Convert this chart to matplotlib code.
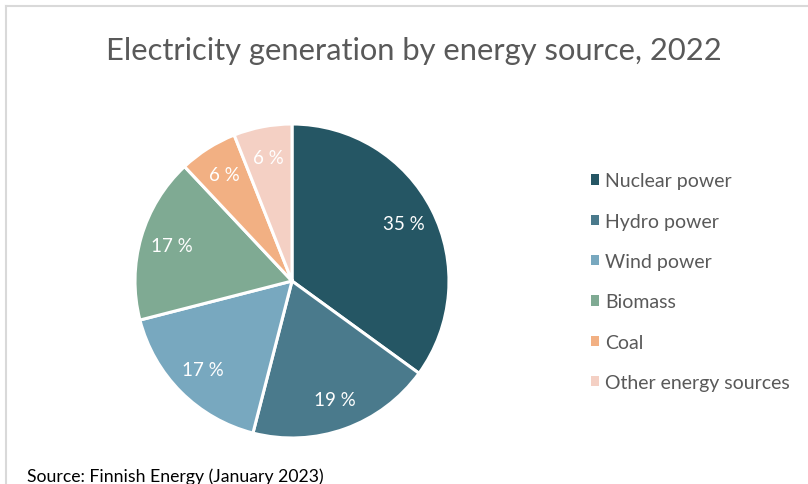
import matplotlib.pyplot as plt
from matplotlib.patches import Patch
from matplotlib.lines import Line2D

plt.rcParams['font.family'] = ['Lato', 'DejaVu Sans']

sources = ['Nuclear power', 'Hydro power', 'Wind power', 'Biomass', 'Coal',
           'Other energy sources']
shares = [35, 19, 17, 17, 6, 6]
colours = ['#255664', '#4a7a8c', '#78a8bf', '#7faa93', '#f2b083', '#f4d0c4']

W, H = 808, 485
fig = plt.figure(figsize=(W / 100, H / 100), dpi=100)

# thin frame round the chart area (top and left edges visible)
grey = '#d9d9d9'
fig.add_artist(Line2D([6 / W, 1], [1 - 7 / H, 1 - 7 / H], color=grey, lw=1.5))
fig.add_artist(Line2D([6 / W, 6 / W], [0, 1 - 7 / H], color=grey, lw=1.5))

cx, cy, r = 292, 282, 157
ax = fig.add_axes([(cx - r) / W, (H - cy - r) / H, 2 * r / W, 2 * r / H])
wedges, _, autotexts = ax.pie(
    shares, colors=colours, startangle=90, counterclock=False,
    autopct=lambda p: f'{p:.0f} %', pctdistance=0.8,
    wedgeprops=dict(edgecolor='white', linewidth=2.2),
    textprops=dict(color='white', fontsize=13.5))
ax.set_xlim(-1, 1)
ax.set_ylim(-1, 1)
ax.set_aspect('equal')
ax.axis('off')

fig.text(414 / W, 1 - 51 / H, 'Electricity generation by energy source, 2022',
         ha='center', va='center', fontsize=22.2, color='#595959')

handles = [Patch(facecolor=c, edgecolor='none') for c in colours]
fig.legend(handles, sources, loc='upper left',
           bbox_to_anchor=(573 / W, 1 - 156 / H), frameon=False,
           fontsize=14, labelcolor='#595959', handlelength=0.45,
           handleheight=0.45, handletextpad=0.3, labelspacing=1.2)

fig.text(27 / W, 1 - 477 / H, 'Source: Finnish Energy (January 2023)',
         ha='left', va='center', fontsize=12.7, color='black')

fig.savefig('out.png', dpi=100)
